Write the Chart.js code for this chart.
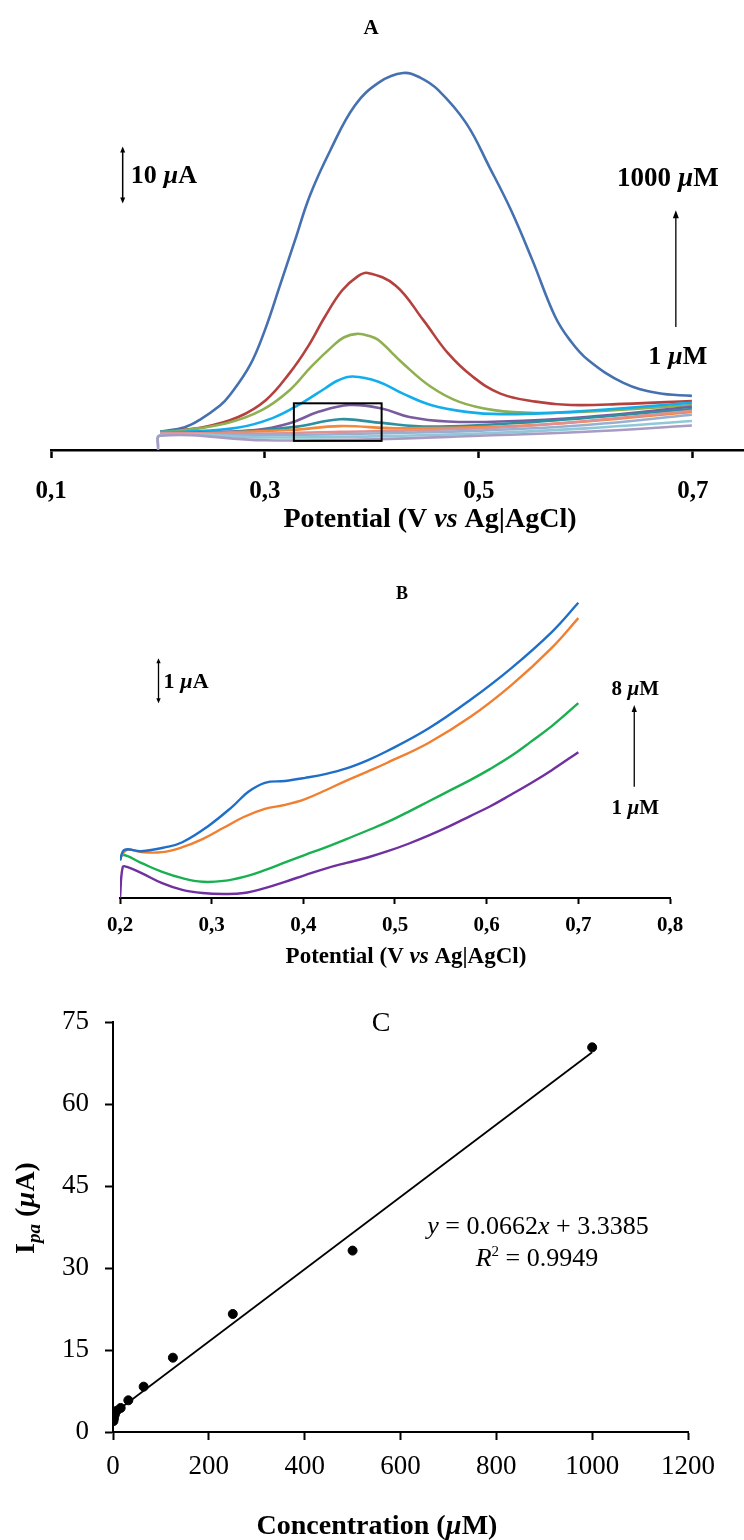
<!DOCTYPE html>
<html>
<head>
<meta charset="utf-8">
<script src="https://cdn.jsdelivr.net/npm/chart.js@4.4.1/dist/chart.umd.min.js"></script>
<style>
  html, body { margin: 0; padding: 0; background: #fff; }
  #wrap { position: relative; width: 744px; height: 1540px; overflow: hidden; background: #fff; }
  canvas { position: absolute; left: 0; }
</style>
</head>
<body>
<div id="wrap">
  <canvas id="cA" width="744" height="545" style="top:0px"></canvas>
  <canvas id="cB" width="744" height="420" style="top:560px"></canvas>
  <canvas id="cC" width="744" height="550" style="top:990px"></canvas>
</div>
<script>
// ---------------- DATA: Panel A (DPV, I in µA vs E in V) ----------------
const ticksA = [0.1, 0.3, 0.5, 0.7];
const concA = ['1000 µM', '500 µM', '250 µM', '125 µM', '64 µM', '32 µM', '16 µM', '8 µM', '4 µM', '2 µM', '1 µM'];
const vA1000 = [0.202, 0.225, 0.239, 0.258, 0.267, 0.286, 0.300, 0.314, 0.328, 0.342, 0.361, 0.384, 0.407, 0.429, 0.445, 0.462, 0.488, 0.510, 0.530, 0.550, 0.571, 0.585, 0.602, 0.635, 0.667, 0.699];
const iA1000 = [3.2, 4.0, 5.3, 7.8, 9.6, 14.9, 21.1, 28.9, 36.8, 44.7, 52.6, 60.5, 64.6, 66.2, 65.4, 63.2, 57.4, 49.6, 42.1, 33.3, 23.5, 19.3, 15.8, 11.8, 10.0, 9.5];
const vA500 = [0.202, 0.242, 0.275, 0.301, 0.323, 0.340, 0.356, 0.372, 0.386, 0.396, 0.422, 0.448, 0.471, 0.494, 0.520, 0.553, 0.586, 0.635, 0.699];
const iA500 = [3.2, 4.0, 5.8, 8.8, 13.5, 18.1, 23.4, 28.0, 30.4, 31.1, 28.9, 22.8, 17.0, 12.9, 9.9, 8.5, 7.9, 8.1, 8.6];
const vA250 = [0.202, 0.225, 0.264, 0.297, 0.323, 0.343, 0.363, 0.374, 0.386, 0.398, 0.406, 0.429, 0.455, 0.481, 0.514, 0.553, 0.619, 0.699];
const iA250 = [3.2, 3.5, 4.7, 7.0, 10.5, 14.6, 18.2, 19.8, 20.4, 20.0, 19.3, 15.2, 11.1, 8.5, 7.0, 6.5, 6.9, 7.9];
const vA125 = [0.202, 0.225, 0.274, 0.307, 0.334, 0.356, 0.368, 0.382, 0.406, 0.429, 0.455, 0.488, 0.520, 0.586, 0.699];
const iA125 = [3.2, 3.2, 3.9, 5.6, 8.2, 10.8, 12.2, 12.9, 12.0, 9.9, 7.9, 6.7, 6.3, 6.7, 8.3];
const vA64 = [0.202, 0.225, 0.291, 0.323, 0.350, 0.379, 0.409, 0.435, 0.471, 0.520, 0.600, 0.699];
const iA64 = [3.0, 3.0, 3.5, 4.7, 6.7, 7.9, 7.3, 5.8, 5.0, 5.0, 5.8, 7.6];
const vA32 = [0.202, 0.274, 0.330, 0.370, 0.406, 0.455, 0.550, 0.699];
const iA32 = [3.0, 3.2, 4.1, 5.4, 4.8, 4.1, 4.9, 7.2];
const vA16 = [0.202, 0.225, 0.323, 0.370, 0.422, 0.520, 0.600, 0.699];
const iA16 = [2.9, 2.9, 3.5, 4.2, 3.8, 4.1, 5.0, 6.7];
const vA8 = [0.202, 0.300, 0.370, 0.450, 0.550, 0.699];
const iA8 = [3.0, 2.9, 3.2, 3.5, 4.3, 6.9];
const vA4 = [0.202, 0.300, 0.400, 0.500, 0.600, 0.699];
const iA4 = [2.8, 2.6, 2.9, 3.4, 4.4, 6.2];
const vA2 = [0.200, 0.202, 0.300, 0.400, 0.500, 0.600, 0.699];
const iA2 = [0.5, 2.6, 2.2, 2.4, 2.9, 3.8, 5.1];
const vA1 = [0.200, 0.202, 0.300, 0.400, 0.500, 0.600, 0.699];
const iA1 = [0.0, 2.5, 1.7, 1.9, 2.5, 3.2, 4.3];
// annotation anchors (data units)
const barA_V = 0.167, barA_I = [43.3, 53.3];        // 10 µA scale bar
const arrowA_V = 0.684, arrowA_I = [21.6, 42.1];    // concentration arrow
const boxA_V = [0.327, 0.409], boxA_I = [1.6, 8.2]; // zoom box

// ---------------- DATA: Panel B ----------------
const ticksB = [0.2, 0.3, 0.4, 0.5, 0.6, 0.7, 0.8];
const concB = ['8 µM', '4 µM', '2 µM', '1 µM'];
const vB8 = [0.200, 0.205, 0.223, 0.250, 0.268, 0.295, 0.322, 0.340, 0.358, 0.380, 0.402, 0.425, 0.447, 0.470, 0.491, 0.536, 0.582, 0.627, 0.671, 0.700];
const iB8 = [0.84, 1.07, 1.04, 1.13, 1.24, 1.58, 2.02, 2.36, 2.56, 2.60, 2.67, 2.76, 2.88, 3.06, 3.26, 3.76, 4.40, 5.11, 5.91, 6.56];
const vB4 = [0.200, 0.2077, 0.223, 0.246, 0.268, 0.290, 0.313, 0.335, 0.358, 0.380, 0.402, 0.425, 0.447, 0.470, 0.491, 0.536, 0.582, 0.627, 0.671, 0.700];
const iB4 = [0.89, 1.07, 1.02, 1.02, 1.13, 1.31, 1.56, 1.80, 1.98, 2.07, 2.20, 2.40, 2.61, 2.81, 3.00, 3.44, 4.02, 4.73, 5.56, 6.22];
const vB2 = [0.200, 0.203, 0.223, 0.246, 0.268, 0.290, 0.313, 0.335, 0.358, 0.380, 0.402, 0.425, 0.447, 0.470, 0.492, 0.514, 0.537, 0.559, 0.582, 0.604, 0.627, 0.648, 0.671, 0.700];
const iB2 = [0.84, 0.96, 0.78, 0.58, 0.44, 0.36, 0.38, 0.47, 0.62, 0.79, 0.96, 1.13, 1.31, 1.50, 1.69, 1.91, 2.15, 2.38, 2.62, 2.87, 3.16, 3.47, 3.82, 4.33];
const vB1 = [0.200, 0.203, 0.2077, 0.223, 0.246, 0.268, 0.290, 0.313, 0.335, 0.358, 0.380, 0.402, 0.425, 0.447, 0.470, 0.492, 0.514, 0.537, 0.559, 0.582, 0.604, 0.626, 0.649, 0.671, 0.700];
const iB1 = [0.00, 0.69, 0.69, 0.56, 0.33, 0.18, 0.11, 0.09, 0.11, 0.22, 0.36, 0.51, 0.66, 0.78, 0.90, 1.04, 1.20, 1.39, 1.59, 1.82, 2.04, 2.29, 2.56, 2.84, 3.24];
const barB_V = 0.242, barB_I = [4.33, 5.33];       // 1 µA scale bar
const arrowB_V = 0.761, arrowB_I = [2.47, 4.29];

// ---------------- DATA: Panel C (calibration) ----------------
const concC = [1, 2, 4, 8, 16, 32, 64, 125, 250, 500, 1000];
const ipaC = [2.0, 2.5, 3.2, 3.9, 4.4, 5.8, 8.3, 13.6, 21.6, 33.2, 70.4];
const trendX = [1, 1000];
const trendY = [3.4, 69.5];
const ticksCX = [0, 200, 400, 600, 800, 1000, 1200];
const ticksCY = [0, 15, 30, 45, 60, 75];

// ---------------- helpers ----------------
const FF = "'Liberation Serif', 'DejaVu Serif', serif";
const pts = (xs, ys) => xs.map((x, k) => ({ x: x, y: ys[k] }));
const comma = v => v.toFixed(1).replace('.', ',');

function runs(ctx, list, x, y, align) {
  ctx.save();
  ctx.textBaseline = 'alphabetic';
  ctx.fillStyle = '#000';
  let w = 0;
  list.forEach(r => { ctx.font = r.f; w += ctx.measureText(r.t).width; });
  let cx = align === 'center' ? x - w / 2 : (align === 'right' ? x - w : x);
  list.forEach(r => { ctx.font = r.f; ctx.fillText(r.t, cx, y + (r.dy || 0)); cx += ctx.measureText(r.t).width; });
  ctx.restore();
}
function head(ctx, x, y, dir, len, half) {
  ctx.beginPath();
  ctx.moveTo(x, y);
  ctx.lineTo(x - half, y - dir * len);
  ctx.lineTo(x + half, y - dir * len);
  ctx.closePath();
  ctx.fill();
}
function vArrow(ctx, x, yTop, yBot, both, lw, len, half) {
  ctx.save();
  ctx.strokeStyle = '#000'; ctx.fillStyle = '#000'; ctx.lineWidth = lw;
  ctx.beginPath();
  ctx.moveTo(x, yBot - (both ? len * 0.6 : 0));
  ctx.lineTo(x, yTop + len * 0.6);
  ctx.stroke();
  head(ctx, x, yTop, -1, len, half);
  if (both) head(ctx, x, yBot, 1, len, half);
  ctx.restore();
}
const bold = s => 'bold ' + s + 'px ' + FF;
const boldIt = s => 'italic bold ' + s + 'px ' + FF;
const reg = s => s + 'px ' + FF;
const it = s => 'italic ' + s + 'px ' + FF;

function xAxisCommon(ticksArr, size, weight, pad, tl, bw, fmt, h) {
  return {
    type: 'linear',
    afterBuildTicks: s => { s.ticks = ticksArr.map(v => ({ value: v })); },
    afterFit: s => { s.height = h; },
    grid: { display: true, drawOnChartArea: false, drawTicks: true, tickLength: tl, tickColor: '#000', tickWidth: bw, color: '#000' },
    border: { display: true, color: '#000', width: bw },
    ticks: { color: '#000', padding: pad, maxRotation: 0, autoSkip: false, font: { family: FF, size: size, weight: weight }, callback: fmt }
  };
}

// ---------------- Panel A ----------------
const colorsA = ['#4571B0', '#B5413E', '#8FB050', '#12AEEC', '#7A5C9E', '#2E8FA0', '#F08A3C', '#E09090', '#9AAFD0', '#8FC8D8', '#A99BC4'];
const seriesA = [[vA1, iA1], [vA2, iA2], [vA4, iA4], [vA8, iA8], [vA16, iA16], [vA32, iA32], [vA64, iA64], [vA125, iA125], [vA250, iA250], [vA500, iA500], [vA1000, iA1000]];
const colorOrderA = [10, 9, 8, 7, 6, 5, 4, 3, 2, 1, 0];
const annotA = {
  id: 'annotA',
  afterDraw(chart) {
    const ctx = chart.ctx, xs = chart.scales.x, ys = chart.scales.y;
    ctx.save();
    ctx.strokeStyle = '#000'; ctx.lineWidth = 2;
    const x0 = xs.getPixelForValue(boxA_V[0]), x1 = xs.getPixelForValue(boxA_V[1]);
    const y0 = ys.getPixelForValue(boxA_I[1]), y1 = ys.getPixelForValue(boxA_I[0]);
    ctx.strokeRect(x0, y0, x1 - x0, y1 - y0);
    ctx.restore();
    const bx = xs.getPixelForValue(barA_V);
    const bt = ys.getPixelForValue(barA_I[1]), bb = ys.getPixelForValue(barA_I[0]);
    vArrow(ctx, bx, bt, bb, true, 1.5, 6, 2.5);
    runs(ctx, [{ t: '10 ', f: bold(26) }, { t: 'µ', f: boldIt(26) }, { t: 'A', f: bold(26) }], bx + 8, (bt + bb) / 2 + 8, 'left');
    const ax = xs.getPixelForValue(arrowA_V);
    const at = ys.getPixelForValue(arrowA_I[1]), ab = ys.getPixelForValue(arrowA_I[0]);
    vArrow(ctx, ax, at, ab, false, 1.3, 8, 3);
    runs(ctx, [{ t: '1000 ', f: bold(27) }, { t: 'µ', f: boldIt(27) }, { t: 'M', f: bold(27) }], ax - 8, at - 24, 'center');
    runs(ctx, [{ t: '1 ', f: bold(26) }, { t: 'µ', f: boldIt(26) }, { t: 'M', f: bold(26) }], ax + 2, ab + 37, 'center');
    runs(ctx, [{ t: 'A', f: bold(21) }], 371, 34, 'center');
    runs(ctx, [{ t: 'Potential (V ', f: bold(28) }, { t: 'vs', f: boldIt(28) }, { t: ' Ag|AgCl)', f: bold(28) }], 430, 527, 'center');
  }
};
new Chart(document.getElementById('cA'), {
  type: 'line',
  data: {
    labels: [],
    datasets: seriesA.map((s, k) => ({
      label: concA[colorOrderA[k]],
      data: pts(s[0], s[1]),
      borderColor: colorsA[colorOrderA[k]],
      borderWidth: 2.6,
      pointRadius: 0,
      fill: false,
      tension: 0.4
    }))
  },
  options: {
    responsive: false, animation: false, devicePixelRatio: 1,
    layout: { padding: { left: 51, right: 0, top: 40, bottom: 0 } },
    plugins: { legend: { display: false }, tooltip: { enabled: false }, title: { display: false } },
    scales: {
      x: Object.assign(xAxisCommon(ticksA, 25, 'bold', 19, 8, 2.5, v => comma(v), 95), { min: 0.1, max: 0.7477 }),
      y: { type: 'linear', display: false, min: 0, max: 72 }
    }
  },
  plugins: [annotA]
});

// ---------------- Panel B ----------------
const colorsB = ['#1F6FC8', '#F07F30', '#18B050', '#7030A0'];
const seriesB = [[vB8, iB8], [vB4, iB4], [vB2, iB2], [vB1, iB1]];
const annotB = {
  id: 'annotB',
  afterDraw(chart) {
    const ctx = chart.ctx, xs = chart.scales.x, ys = chart.scales.y;
    const bx = xs.getPixelForValue(barB_V);
    const bt = ys.getPixelForValue(barB_I[1]), bb = ys.getPixelForValue(barB_I[0]);
    vArrow(ctx, bx, bt, bb, true, 1.3, 5, 2.2);
    runs(ctx, [{ t: '1 ', f: bold(22) }, { t: 'µ', f: boldIt(22) }, { t: 'A', f: bold(22) }], bx + 5, (bt + bb) / 2 + 7, 'left');
    const ax = xs.getPixelForValue(arrowB_V);
    const at = ys.getPixelForValue(arrowB_I[1]), ab = ys.getPixelForValue(arrowB_I[0]);
    vArrow(ctx, ax, at, ab, false, 1.3, 7, 2.6);
    runs(ctx, [{ t: '8 ', f: bold(21) }, { t: 'µ', f: boldIt(21) }, { t: 'M', f: bold(21) }], ax + 1, at - 10, 'center');
    runs(ctx, [{ t: '1 ', f: bold(21) }, { t: 'µ', f: boldIt(21) }, { t: 'M', f: bold(21) }], ax + 1, ab + 27, 'center');
    runs(ctx, [{ t: 'B', f: bold(18) }], 402, 39, 'center');
    runs(ctx, [{ t: 'Potential (V ', f: bold(23) }, { t: 'vs', f: boldIt(23) }, { t: ' Ag|AgCl)', f: bold(23) }], 406, 403, 'center');
  }
};
new Chart(document.getElementById('cB'), {
  type: 'line',
  data: {
    labels: [],
    datasets: seriesB.map((s, k) => ({
      label: concB[k],
      data: pts(s[0], s[1]),
      borderColor: colorsB[k],
      borderWidth: 2.4,
      pointRadius: 0,
      fill: false,
      tension: 0.4
    }))
  },
  options: {
    responsive: false, animation: false, devicePixelRatio: 1,
    layout: { padding: { left: 120, right: 74, top: 38, bottom: 0 } },
    plugins: { legend: { display: false }, tooltip: { enabled: false } },
    scales: {
      x: Object.assign(xAxisCommon(ticksB, 21, 'bold', 9, 6, 2, v => comma(v), 82), { min: 0.2, max: 0.8 }),
      y: { type: 'linear', display: false, min: 0, max: 6.667 }
    }
  },
  plugins: [annotB]
});

// ---------------- Panel C ----------------
const annotC = {
  id: 'annotC',
  afterDraw(chart) {
    const ctx = chart.ctx;
    runs(ctx, [{ t: 'C', f: reg(28) }], 381, 41, 'center');
    runs(ctx, [{ t: 'y', f: it(26) }, { t: ' = 0.0662', f: reg(26) }, { t: 'x', f: it(26) }, { t: ' + 3.3385', f: reg(26) }], 538, 244, 'center');
    runs(ctx, [{ t: 'R', f: it(26) }, { t: '2', f: reg(15), dy: -10 }, { t: ' = 0.9949', f: reg(26) }], 537, 276, 'center');
    runs(ctx, [{ t: 'Concentration (', f: bold(28) }, { t: 'µ', f: boldIt(28) }, { t: 'M)', f: bold(28) }], 377, 544, 'center');
    ctx.save();
    ctx.translate(34, 218);
    ctx.rotate(-Math.PI / 2);
    runs(ctx, [{ t: 'I', f: bold(28) }, { t: 'pa', f: boldIt(19), dy: 6 }, { t: ' (', f: bold(28) }, { t: 'µ', f: boldIt(28) }, { t: 'A)', f: bold(28) }], 0, 0, 'center');
    ctx.restore();
  }
};
new Chart(document.getElementById('cC'), {
  type: 'scatter',
  data: {
    datasets: [
      { label: 'Ipa', data: pts(concC, ipaC), pointRadius: 4.5, pointBackgroundColor: '#000', pointBorderColor: '#000', showLine: false },
      { label: 'fit', data: pts(trendX, trendY), pointRadius: 0, borderColor: '#000', borderWidth: 1.8, showLine: true, fill: false }
    ]
  },
  options: {
    responsive: false, animation: false, devicePixelRatio: 1,
    layout: { padding: { left: 33, right: 56, top: 31, bottom: 0 } },
    plugins: { legend: { display: false }, tooltip: { enabled: false } },
    scales: {
      x: Object.assign(xAxisCommon(ticksCX, 27, 'normal', 11, 8, 2, v => String(v), 108), { min: 0, max: 1200 }),
      y: {
        type: 'linear', min: 0, max: 75,
        afterBuildTicks: s => { s.ticks = ticksCY.map(v => ({ value: v })); },
        afterFit: s => { s.width = 80; },
        grid: { display: true, drawOnChartArea: false, drawTicks: true, tickLength: 8, tickColor: '#000', tickWidth: 2, color: '#000' },
        border: { display: true, color: '#000', width: 2 },
        ticks: { color: '#000', padding: 16, font: { family: FF, size: 27 }, callback: v => String(v) }
      }
    }
  },
  plugins: [annotC]
});
</script>
</body>
</html>
